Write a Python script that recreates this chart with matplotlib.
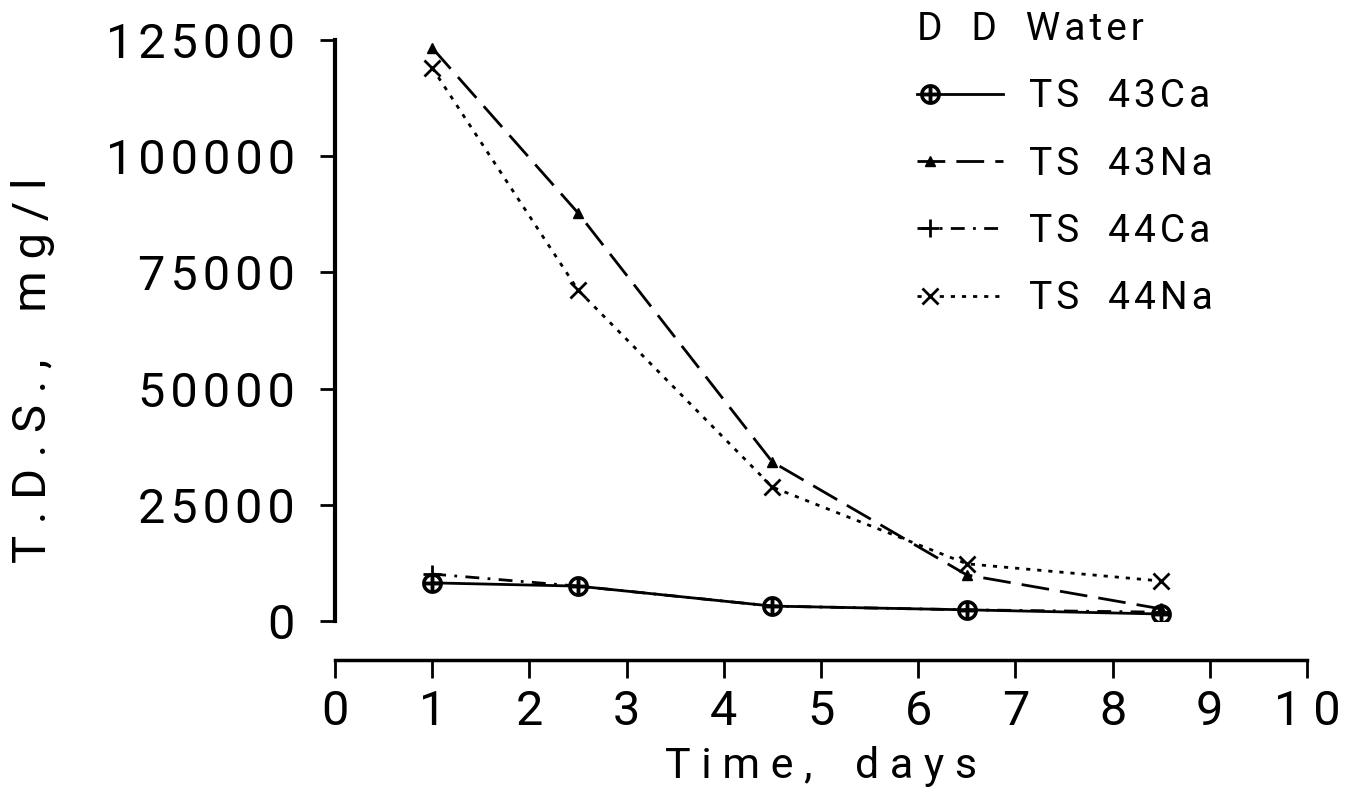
import matplotlib.pyplot as plt
from matplotlib.legend_handler import HandlerLine2D

# days
days = [1, 2.5, 4.5, 6.5, 8.5]

# T.D.S. mg/l
ts43ca = [8200, 7500, 3200, 2400, 1500]
ts43na = [123300, 87800, 34200, 9900, 2600]
ts44ca = [10100, 7500, 3200, 2400, 1900]
ts44na = [119000, 71200, 28800, 12300, 8600]

labels = ['TS  43Ca', 'TS  43Na', 'TS  44Ca', 'TS  44Na']
yticks = [0, 25000, 50000, 75000, 100000, 125000]
xticks = list(range(0, 11))

HAIR = '\u200a'


def spaced(s, gap=HAIR):
    # plotter-style letter spacing, word gaps kept
    return '   '.join(gap.join(w) for w in s.split())


# marker at the left end of the legend line, like the old plotter output
class LeftMarker(HandlerLine2D):
    def create_artists(self, legend, orig_handle, xdescent, ydescent,
                       width, height, fontsize, trans):
        arts = super().create_artists(legend, orig_handle, xdescent, ydescent,
                                      width, height, fontsize, trans)
        line = arts[0]
        x = line.get_xdata()
        line.set_xdata([x[0], x[0] + 0.15 * (x[-1] - x[0]), x[-1]])
        return arts


plt.rcParams['font.family'] = ['Roboto', 'DejaVu Sans']

fig = plt.figure(figsize=(13.53, 8.05), dpi=100)
ax = fig.add_axes([0.2476, 0.2286, 0.7184, 0.7217])

ax.plot(days, ts43ca, color='black', lw=2, ls='-', marker=r'$\oplus$', ms=14, label=labels[0])
ax.plot(days, ts43na, color='black', lw=2, ls=(0, (10, 4)), marker='^', ms=7, label=labels[1])
ax.plot(days, ts44ca, color='black', lw=2, ls=(0, (5, 3, 1, 3)), marker='+', ms=13, mew=2, label=labels[2])
ax.plot(days, ts44na, color='black', lw=2, ls=(0, (1.5, 2.5)), marker='x', ms=11, mew=2, label=labels[3])

ax.spines['top'].set_visible(False)
ax.spines['right'].set_visible(False)
ax.spines['bottom'].set_position(('outward', 28))
ax.spines['bottom'].set_linewidth(2.5)
ax.spines['left'].set_linewidth(3)

ax.set_xlim(0, 10)
ax.set_ylim(0, 125000)
ax.set_xticks(xticks)
ax.set_yticks(yticks)
ax.set_xticklabels([' '.join(str(t)) for t in xticks], fontsize=35)
ax.set_yticklabels([HAIR.join(str(t)) for t in yticks], fontsize=35)
ax.tick_params(axis='x', width=2, length=13, pad=8)
ax.tick_params(axis='y', width=2, length=11, pad=18)

ax.set_xlabel('T i m e ,    d a y s', fontsize=31, labelpad=8)
ax.set_ylabel('T . D . S . ,    m g / l', fontsize=34)
ax.yaxis.set_label_coords(-0.288, 0.432)

leg = ax.legend(loc='upper left', bbox_to_anchor=(917 / 1353, 1 - 11 / 805),
                bbox_transform=fig.transFigure, frameon=False,
                borderpad=0, borderaxespad=0,
                title='D   D   ' + HAIR.join('Water'), title_fontsize=28, fontsize=28,
                handlelength=2.2, handletextpad=0.67, labelspacing=0.78,
                handler_map={plt.Line2D: LeftMarker(numpoints=1)})
leg._legend_box.align = 'left'
for t in leg.get_texts():
    t.set_text(spaced(t.get_text()))

fig.savefig('out.png', dpi=100)
